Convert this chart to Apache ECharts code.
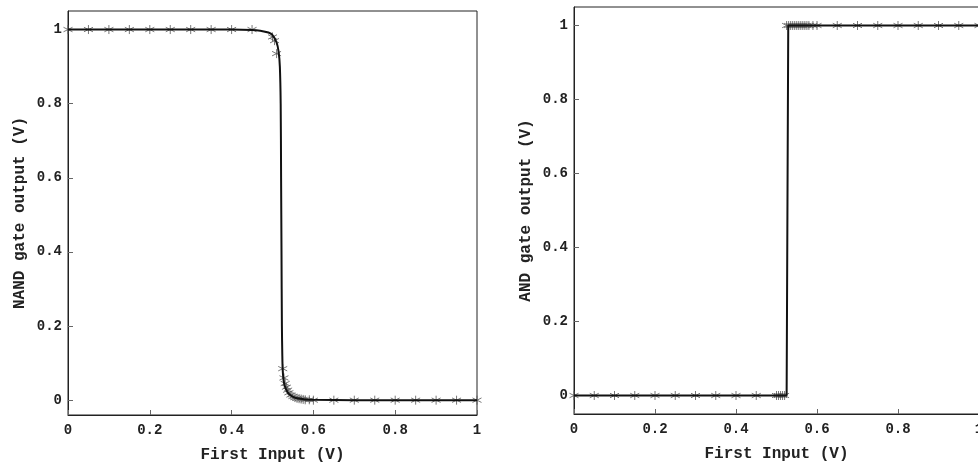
<!DOCTYPE html>
<html><head><meta charset="utf-8">
<script src="https://cdn.jsdelivr.net/npm/echarts@6/dist/echarts.min.js"></script>
<style>html,body{margin:0;background:#fff}#c{width:978px;height:467px}</style>
</head><body><div id="c"></div>
<script>
// NAND curve (line) and markers
const nandLineX = [0,0.1,0.2,0.3,0.4,0.45,0.47,0.49,0.5,0.51,0.515,0.518,0.52,0.521,0.522,0.523,0.524,0.525,0.527,0.53,0.535,0.54,0.55,0.56,0.58,0.6,0.7,0.8,0.9,1];
const nandLineY = [1,1,1,1,1,0.999,0.997,0.992,0.985,0.965,0.94,0.9,0.8,0.6,0.4,0.2,0.12,0.08,0.055,0.038,0.025,0.017,0.009,0.005,0.002,0.001,0,0,0,0];
const nandMarkX = [0,0.05,0.1,0.15,0.2,0.25,0.3,0.35,0.4,0.45,0.5,0.505,0.51,0.525,0.528,0.531,0.534,0.537,0.54,0.545,0.55,0.555,0.56,0.565,0.57,0.575,0.58,0.59,0.6,0.65,0.7,0.75,0.8,0.85,0.9,0.95,1];
const nandMarkY = [1,1,1,1,1,1,1,1,1,1,0.98,0.97,0.935,0.085,0.06,0.045,0.035,0.027,0.02,0.014,0.01,0.007,0.005,0.004,0.003,0.002,0.001,0.001,0,0,0,0,0,0,0,0,0];
// AND curve and markers
const andLineX = [0,0.5,0.525,0.527,0.529,0.6,1];
const andLineY = [0,0,0,0.5,1,1,1];
const andMarkX = [0,0.05,0.1,0.15,0.2,0.25,0.3,0.35,0.4,0.45,0.5,0.505,0.51,0.515,0.52,0.525,0.53,0.535,0.54,0.545,0.55,0.555,0.56,0.565,0.57,0.575,0.58,0.59,0.6,0.65,0.7,0.75,0.8,0.85,0.9,0.95,1];
const andMarkY = [0,0,0,0,0,0,0,0,0,0,0,0,0,0,0,1,1,1,1,1,1,1,1,1,1,1,1,1,1,1,1,1,1,1,1,1,1];
const ticks = [0,0.2,0.4,0.6,0.8,1];
const zip = (a,b)=>a.map((v,i)=>[v,b[i]]);
const F = 'Liberation Mono, Courier New, monospace';
const star = 'path://M0,-5L0,5M-4.33,-2.5L4.33,2.5M-4.33,2.5L4.33,-2.5';
const fmt = v => ticks.some(t=>Math.abs(t-v)<1e-9) ? (v===0?'0':v===1?'1':String(v)) : '';
function xAx(i){return {gridIndex:i,type:'value',min:0,max:1,interval:0.2,
  name:'First Input (V)',nameLocation:'middle',nameGap:32,
  nameTextStyle:{fontFamily:F,fontWeight:'bold',fontSize:16,color:'#222'},
  axisLine:{onZero:false,lineStyle:{color:'#222'}},axisTick:{inside:true,length:5,lineStyle:{color:'#666'}},
  axisLabel:{fontFamily:F,fontWeight:'bold',fontSize:14,color:'#222',formatter:fmt,margin:8},splitLine:{show:false}};}
function yAx(i,name,min,max){return {gridIndex:i,type:'value',min:min,max:max,
  name:name,nameLocation:'middle',nameGap:40,
  nameTextStyle:{fontFamily:F,fontWeight:'bold',fontSize:16,color:'#222'},
  axisLine:{onZero:false,lineStyle:{color:'#222'}},axisTick:{inside:true,length:5,lineStyle:{color:'#666'},customValues:ticks},
  axisLabel:{fontFamily:F,fontWeight:'bold',fontSize:14,color:'#222',customValues:ticks,formatter:fmt,margin:6},splitLine:{show:false}};}
const ch = echarts.init(document.getElementById('c'));
ch.setOption({
  animation:false,
  grid:[{left:68,top:11,width:409,height:404,show:true,borderColor:'#222',borderWidth:1,outerBoundsMode:'none'},
        {left:574,top:7,width:405,height:407,show:true,borderColor:'#222',borderWidth:1,outerBoundsMode:'none'}],
  xAxis:[xAx(0),xAx(1)],
  yAxis:[yAx(0,'NAND gate output (V)',-0.04,1.05),yAx(1,'AND gate output (V)',-0.05,1.05)],
  series:[
    {type:'line',xAxisIndex:0,yAxisIndex:0,data:zip(nandLineX,nandLineY),showSymbol:false,smooth:0.3,lineStyle:{color:'#111',width:2}},
    {type:'scatter',xAxisIndex:0,yAxisIndex:0,data:zip(nandMarkX,nandMarkY),symbol:star,symbolSize:9,itemStyle:{color:'none',borderColor:'#555',borderWidth:1}},
    {type:'line',xAxisIndex:1,yAxisIndex:1,data:zip(andLineX,andLineY),showSymbol:false,lineStyle:{color:'#111',width:2}},
    {type:'scatter',xAxisIndex:1,yAxisIndex:1,data:zip(andMarkX,andMarkY),symbol:star,symbolSize:9,itemStyle:{color:'none',borderColor:'#555',borderWidth:1}}
  ]
});
</script></body></html>
